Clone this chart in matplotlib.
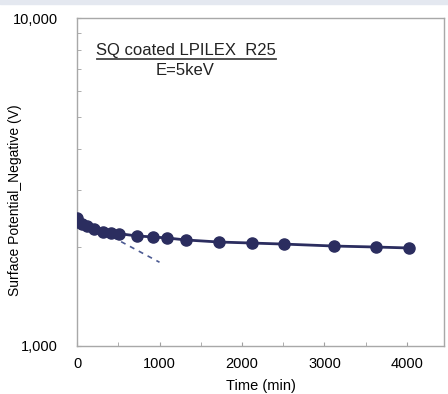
import matplotlib.pyplot as plt
from matplotlib.ticker import FixedLocator, FuncFormatter, MultipleLocator

plt.rcParams['font.family'] = ['Liberation Sans', 'DejaVu Sans']

# measured surface potential (V) vs time (min)
time_min = [0, 10, 60, 120, 200, 320, 410, 510, 730, 920, 1090, 1320, 1720, 2120, 2510, 3120, 3630, 4020]
potential = [2455, 2390, 2355, 2320, 2275, 2230, 2215, 2200, 2165, 2150, 2135, 2105, 2075, 2060, 2045, 2017, 2003, 1990]

# initial slope guide (dashed)
fit_t = [0, 1000]
fit_v = [2455, 1800]

fig = plt.figure(figsize=(4.48, 3.94), dpi=100)
# thin band at the very top of the screenshot
fig.patches.append(plt.Rectangle((0, 0.99), 1, 0.01, transform=fig.transFigure,
                                 color='#e4e8f0', zorder=0))
ax = fig.add_axes([0.172, 0.122, 0.819, 0.832])

navy = '#2b2d5f'
ax.plot(fit_t, fit_v, '--', color='#4c5a92', lw=1.2, dashes=(3, 3), zorder=2)
ax.plot(time_min, potential, '-o', color=navy, lw=2, markersize=8, zorder=3)

ax.set_yscale('log')
ax.set_ylim(1000, 10000)
ax.set_xlim(0, 4450)
ax.yaxis.set_major_locator(FixedLocator([1000, 10000]))
ax.yaxis.set_major_formatter(FuncFormatter(lambda v, p: f'{int(v):,}'))
ax.yaxis.set_minor_locator(FixedLocator([2000, 3000, 4000, 5000, 6000, 7000, 8000, 9000]))
ax.yaxis.set_minor_formatter(FuncFormatter(lambda v, p: ''))
ax.xaxis.set_major_locator(MultipleLocator(1000))
ax.xaxis.set_minor_locator(MultipleLocator(500))

ax.tick_params(axis='y', which='both', direction='in', length=3, color='#a0a0a0',
               labelsize=10.5, pad=14)
ax.tick_params(axis='x', which='both', direction='in', length=3, color='#a0a0a0',
               labelsize=10.5, pad=8)
for s in ax.spines.values():
    s.set_color('#a8a8a8')
    s.set_linewidth(1)

ax.set_xlabel('Time (min)', fontsize=10.5, labelpad=6)
ax.set_ylabel('Surface Potential_Negative (V)', fontsize=10)
ax.yaxis.set_label_coords(-0.15, 0.445)

ax.text(0.298, 0.902, 'SQ coated LPILEX  R25', transform=ax.transAxes, ha='center',
        va='center', fontsize=12, color='#222222')
ax.plot([0.054, 0.542], [0.875, 0.875], transform=ax.transAxes, color='#444444', lw=1.3)
ax.text(0.294, 0.841, 'E=5keV', transform=ax.transAxes, ha='center', va='center',
        fontsize=12, color='#222222')

fig.savefig('out.png', dpi=100)
